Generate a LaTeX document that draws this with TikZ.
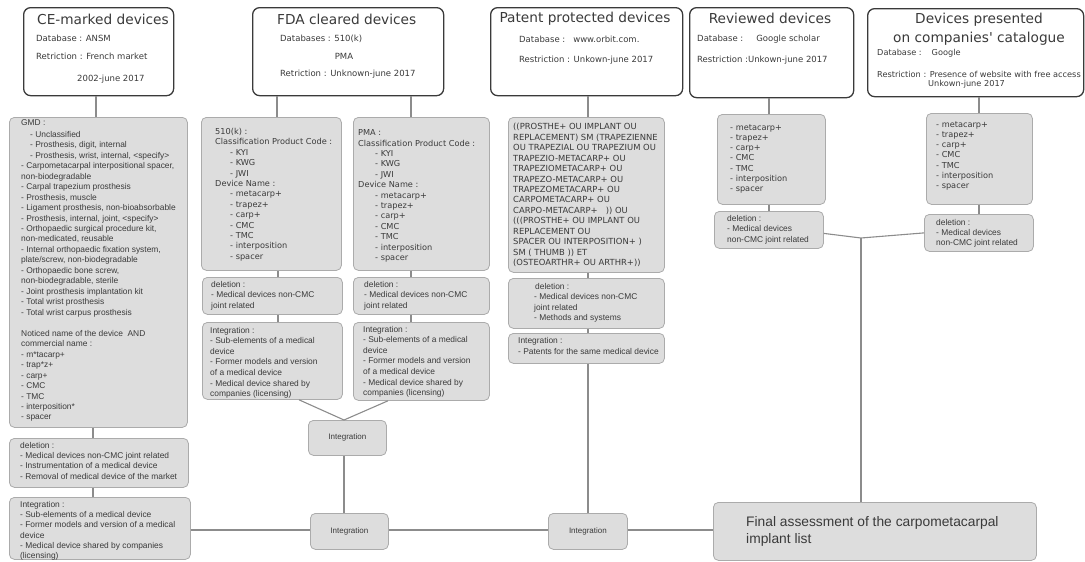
\documentclass[tikz,border=0pt]{standalone}
\usepackage{fontspec}
\setmainfont{Liberation Sans}
\newfontfamily\vf{DejaVu Sans}
\definecolor{txt}{HTML}{3A3A3A}
\definecolor{hdrc}{HTML}{3A3A3A}
\definecolor{boxf}{HTML}{DDDDDD}
\definecolor{boxb}{HTML}{ABABAB}
\definecolor{linec}{HTML}{8C8C8C}
\newcommand\ts{\rule{0pt}{7pt}}
\newcommand\tsb{\rule{0pt}{11pt}}
\newcommand\ind[1]{\hspace*{#1pt}}
\tikzset{
  hdr/.style={draw=hdrc, line width=1.3pt, rounded corners=7pt, fill=white, inner sep=0pt, anchor=north west},
  gbox/.style={draw=boxb, fill=boxf, line width=0.8pt, rounded corners=5pt, inner sep=0pt, anchor=north west},
  ibox/.style={gbox, text=txt, font=\fontsize{8}{10}\selectfont},
  conn/.style={draw=linec, line width=1.1pt},
  ar/.style={anchor=north west, inner sep=0pt, align=left, text=txt, font=\fontsize{8.4}{10.45}\selectfont},
  vs/.style={anchor=north west, inner sep=0pt, align=left, text=txt, font=\vf\fontsize{8.2}{10.4}\selectfont},
  ttl/.style={inner sep=0pt, text=txt, font=\vf\fontsize{13.7}{19}\selectfont},
  sub/.style={inner sep=0pt, text=txt, font=\vf\fontsize{8.5}{10}\selectfont},
}
\begin{document}
\begin{tikzpicture}[x=1pt,y=-1pt]
\useasboundingbox (0,0) rectangle (1085,562);

% ---------- header boxes ----------
\node[hdr, minimum width=150pt, minimum height=88pt] (hCE) at (23,7) {};
\node[hdr, minimum width=191pt, minimum height=88pt] (hFDA) at (252,7) {};
\node[hdr, minimum width=192pt, minimum height=88pt] (hPat) at (490,7) {};
\node[hdr, minimum width=164pt, minimum height=90pt] (hRev) at (689,7) {};
\node[hdr, minimum width=216pt, minimum height=88pt] (hCat) at (867,8) {};

% header texts
\node[ttl, anchor=base] (tCE) at (103,24.5) {CE-marked devices};
\node[sub, anchor=base west] (sCE1) at (36,41) {Database : ANSM};
\node[sub, anchor=base west] (sCE2) at (36,59) {Retriction : French market};
\node[sub, anchor=base west] (sCE3) at (77,81) {2002-june 2017};

\node[ttl, anchor=base] (tFDA) at (346.7,24.5) {FDA cleared devices};
\node[sub, anchor=base west] (sF1) at (280,41) {Databases : 510(k)};
\node[sub, anchor=base] (sF2) at (344,59) {PMA};
\node[sub, anchor=base west] (sF3) at (280,76) {Retriction : Unknown-june 2017};

\node[ttl, anchor=base] (tPat) at (585,22.5) {Patent protected devices};
\node[sub, anchor=base west] (sP1) at (519,42) {Database :\hspace{8pt}www.orbit.com.};
\node[sub, anchor=base west] (sP2) at (519,62) {Restriction : Unkown-june 2017};

\node[ttl, anchor=base] (tRev) at (770,23.5) {Reviewed devices};
\node[sub, anchor=base west] (sR1) at (697,41) {Database :\hspace{13pt}Google scholar};
\node[sub, anchor=base west] (sR2) at (697,62) {Restriction :Unkown-june 2017};

\node[ttl, anchor=north, align=center] (tCat) at (979,12) {\tsb Devices presented\\on companies' catalogue};
\node[sub, anchor=base west, font=\vf\fontsize{8.2}{10}\selectfont] (sC1) at (877,55) {Database :\hspace{10pt}Google};
\node[sub, anchor=base west, font=\vf\fontsize{8.2}{10}\selectfont] (sC2) at (877,77) {Restriction : Presence of website with free access};
\node[sub, anchor=base west, font=\vf\fontsize{8.2}{10}\selectfont] (sC3) at (928,86) {Unkown-june 2017};

% ---------- grey boxes ----------
\node[gbox, minimum width=178pt, minimum height=310pt] (gmd) at (9,117) {};
\node[gbox, minimum width=179pt, minimum height=49pt] (delCE) at (9,438) {};
\node[gbox, minimum width=181pt, minimum height=62pt] (intCE) at (9,497) {};

\node[gbox, minimum width=140pt, minimum height=153pt] (k510) at (201,117) {};
\node[gbox, minimum width=136pt, minimum height=153pt] (pma) at (353,117) {};
\node[gbox, minimum width=140pt, minimum height=37pt] (delK) at (202,277) {};
\node[gbox, minimum width=136pt, minimum height=37pt] (delP) at (353,277) {};
\node[gbox, minimum width=140pt, minimum height=77pt] (intK) at (202,322) {};
\node[gbox, minimum width=136pt, minimum height=78pt] (intP) at (353,322) {};

\node[ibox, minimum width=78pt, minimum height=35pt] (intMid) at (308,420) {Integration};
\node[ibox, minimum width=78pt, minimum height=36pt] (intLow) at (310,513) {Integration};
\node[ibox, minimum width=79pt, minimum height=36pt] (intPat2) at (548,513) {Integration};

\node[gbox, minimum width=156pt, minimum height=155pt] (patBox) at (508,117) {};
\node[gbox, minimum width=156pt, minimum height=50pt] (delPat) at (508,278) {};
\node[gbox, minimum width=156pt, minimum height=30pt] (intPat) at (508,333) {};

\node[gbox, minimum width=108pt, minimum height=90pt] (revList) at (717,114) {};
\node[gbox, minimum width=109pt, minimum height=37pt] (revDel) at (714,211) {};
\node[gbox, minimum width=106pt, minimum height=91pt] (catList) at (926,113) {};
\node[gbox, minimum width=109pt, minimum height=37pt] (catDel) at (924,214) {};

\node[gbox, minimum width=323pt, minimum height=58pt] (final) at (713,502) {};

% ---------- box texts ----------
\node[ar, font=\fontsize{8.4}{10.47}\selectfont] (gmdT) at (21,118.1) {\ts GMD :\\[1.5pt]
\ind{9}- Unclassified\\
\ind{9}- Prosthesis, digit, internal\\
\ind{9}- Prosthesis, wrist, internal, \textless specify\textgreater\\
- Carpometacarpal interpositional spacer,\\
non-biodegradable\\
- Carpal trapezium prosthesis\\
- Prosthesis, muscle\\
- Ligament prosthesis, non-bioabsorbable\\
- Prosthesis, internal, joint, \textless specify\textgreater\\
- Orthopaedic surgical procedure kit,\\
non-medicated, reusable\\
- Internal orthopaedic fixation system,\\
plate/screw, non-biodegradable\\
- Orthopaedic bone screw,\\
non-biodegradable, sterile\\
- Joint prosthesis implantation kit\\
- Total wrist prosthesis\\
- Total wrist carpus prosthesis\\[10.47pt]
Noticed name of the device\ \ AND\\
commercial name :\\
- m*tacarp+\\
- trap*z+\\
- carp+\\
- CMC\\
- TMC\\
- interposition*\\
- spacer};

\node[ar] (delCEt) at (20,440.8) {\ts deletion :\\
- Medical devices non-CMC joint related\\
- Instrumentation of a medical device\\
- Removal of medical device of the market};

\node[ar, font=\fontsize{8.4}{10.3}\selectfont] (intCEt) at (20,500.1) {\ts Integration :\\
- Sub-elements of a medical device\\
- Former models and version of a medical\\
device\\
- Medical device shared by companies\\
(licensing)};

\node[vs] (k510t) at (215,127.3) {\ts 510(k) :\\
Classification Product Code :\\
\ind{15}- KYI\\
\ind{15}- KWG\\
\ind{15}- JWI\\
Device Name :\\
\ind{15}- metacarp+\\
\ind{15}- trapez+\\
\ind{15}- carp+\\
\ind{15}- CMC\\
\ind{15}- TMC\\
\ind{15}- interposition\\
\ind{15}- spacer};

\node[vs] (pmaT) at (358,128.5) {\ts PMA :\\
Classification Product Code :\\
\ind{17}- KYI\\
\ind{17}- KWG\\
\ind{17}- JWI\\
Device Name :\\
\ind{17}- metacarp+\\
\ind{17}- trapez+\\
\ind{17}- carp+\\
\ind{17}- CMC\\
\ind{17}- TMC\\
\ind{17}- interposition\\
\ind{17}- spacer};

\node[ar] (delKt) at (211,280.1) {\ts deletion :\\
- Medical devices non-CMC\\
joint related};
\node[ar] (delPt) at (364,280.1) {\ts deletion :\\
- Medical devices non-CMC\\
joint related};

\node[ar, font=\fontsize{8.4}{10.65}\selectfont] (intKt) at (210,325.8) {\ts Integration :\\
- Sub-elements of a medical\\
device\\
- Former models and version\\
of a medical device\\
- Medical device shared by\\
companies (licensing)};
\node[ar, font=\fontsize{8.4}{10.65}\selectfont] (intPt) at (363,324.8) {\ts Integration :\\
- Sub-elements of a medical\\
device\\
- Former models and version\\
of a medical device\\
- Medical device shared by\\
companies (licensing)};

\node[vs, font=\vf\fontsize{8.4}{10.46}\selectfont] (patT) at (513,122.5) {\ts ((PROSTHE+ OU IMPLANT OU\\
REPLACEMENT) SM (TRAPEZIENNE\\
OU TRAPEZIAL OU TRAPEZIUM OU\\
TRAPEZIO-METACARP+ OU\\
TRAPEZIOMETACARP+ OU\\
TRAPEZO-METACARP+ OU\\
TRAPEZOMETACARP+ OU\\
CARPOMETACARP+ OU\\
CARPO-METACARP+\ \ \ )) OU\\
(((PROSTHE+ OU IMPLANT OU\\
REPLACEMENT OU\\
SPACER OU INTERPOSITION+ )\\
SM ( THUMB )) ET\\
(OSTEOARTHR+ OU ARTHR+))};

\node[ar, font=\fontsize{8.4}{10.2}\selectfont] (delPatT) at (534,282.5) {\ts\ind{1}deletion :\\
- Medical devices non-CMC\\
joint related\\
- Methods and systems};

\node[ar, font=\fontsize{8.4}{11}\selectfont] (intPatT) at (518,336.5) {\ts Integration :\\
- Patents for the same medical device};

\node[vs, font=\vf\fontsize{8.2}{10.33}\selectfont] (revListT) at (730,122.8) {\ts - metacarp+\\
- trapez+\\
- carp+\\
- CMC\\
- TMC\\
- interposition\\
- spacer};
\node[vs, font=\vf\fontsize{8.2}{10.33}\selectfont] (catListT) at (936,119.8) {\ts - metacarp+\\
- trapez+\\
- carp+\\
- CMC\\
- TMC\\
- interposition\\
- spacer};

\node[ar, font=\fontsize{8.4}{10.5}\selectfont] (revDelT) at (727,213.8) {\ts deletion :\\
- Medical devices\\
non-CMC joint related};
\node[ar, font=\fontsize{8.4}{10}\selectfont] (catDelT) at (936,217.8) {\ts deletion :\\
- Medical devices\\
non-CMC joint related};

\node[anchor=north west, inner sep=0pt, align=left, text=txt, font=\fontsize{13.8}{17}\selectfont] (finalT) at (746,515.5) {\tsb Final assessment of the carpometacarpal\\implant list};

% ---------- connectors ----------
\coordinate (xCE) at (96,0);
\coordinate (xCE2) at (93,0);
\coordinate (xK) at (277,0);
\coordinate (xK2) at (278,0);
\coordinate (xP) at (411,0);
\coordinate (xKi) at (299,0);
\coordinate (xPi) at (388,0);
\coordinate (xM) at (344,0);
\coordinate (xPat) at (588,0);
\coordinate (xRev) at (769,0);
\coordinate (xCat) at (979,0);
\coordinate (yL) at (0,530);
\coordinate (J) at (861,238);

\draw[conn] (hCE.south -| xCE) -- (gmd.north -| xCE);
\draw[conn] (gmd.south -| xCE2) -- (delCE.north -| xCE2);
\draw[conn] (delCE.south -| xCE2) -- (intCE.north -| xCE2);
\draw[conn] (intCE.east |- yL) -- (intLow.west |- yL);
\draw[conn] (intLow.east |- yL) -- (intPat2.west |- yL);
\draw[conn] (intPat2.east |- yL) -- (final.west |- yL);

\draw[conn] (hFDA.south -| xK) -- (k510.north -| xK);
\draw[conn] (hFDA.south -| xP) -- (pma.north -| xP);
\draw[conn] (k510.south -| xK2) -- (delK.north -| xK2);
\draw[conn] (delK.south -| xK2) -- (intK.north -| xK2);
\draw[conn] (pma.south -| xP) -- (delP.north -| xP);
\draw[conn] (delP.south -| xP) -- (intP.north -| xP);
\draw[conn] (intK.south -| xKi) -- (intMid.north -| xM);
\draw[conn] (intP.south -| xPi) -- (intMid.north -| xM);
\draw[conn] (intMid.south -| xM) -- (intLow.north -| xM);

\draw[conn] (hPat.south -| xPat) -- (patBox.north -| xPat);
\draw[conn] (patBox.south -| xPat) -- (delPat.north -| xPat);
\draw[conn] (delPat.south -| xPat) -- (intPat.north -| xPat);
\draw[conn] (intPat.south -| xPat) -- (intPat2.north -| xPat);

\draw[conn] (hRev.south -| xRev) -- (revList.north -| xRev);
\draw[conn] (revList.south -| xRev) -- (revDel.north -| xRev);
\draw[conn] (hCat.south -| xCat) -- (catList.north -| xCat);
\draw[conn] (catList.south -| xCat) -- (catDel.north -| xCat);
\draw[conn] ([yshift=-3.5pt]revDel.east) -- (J) -- (catDel.west);
\draw[conn] (J) -- (final.north -| J);
\end{tikzpicture}
\end{document}
